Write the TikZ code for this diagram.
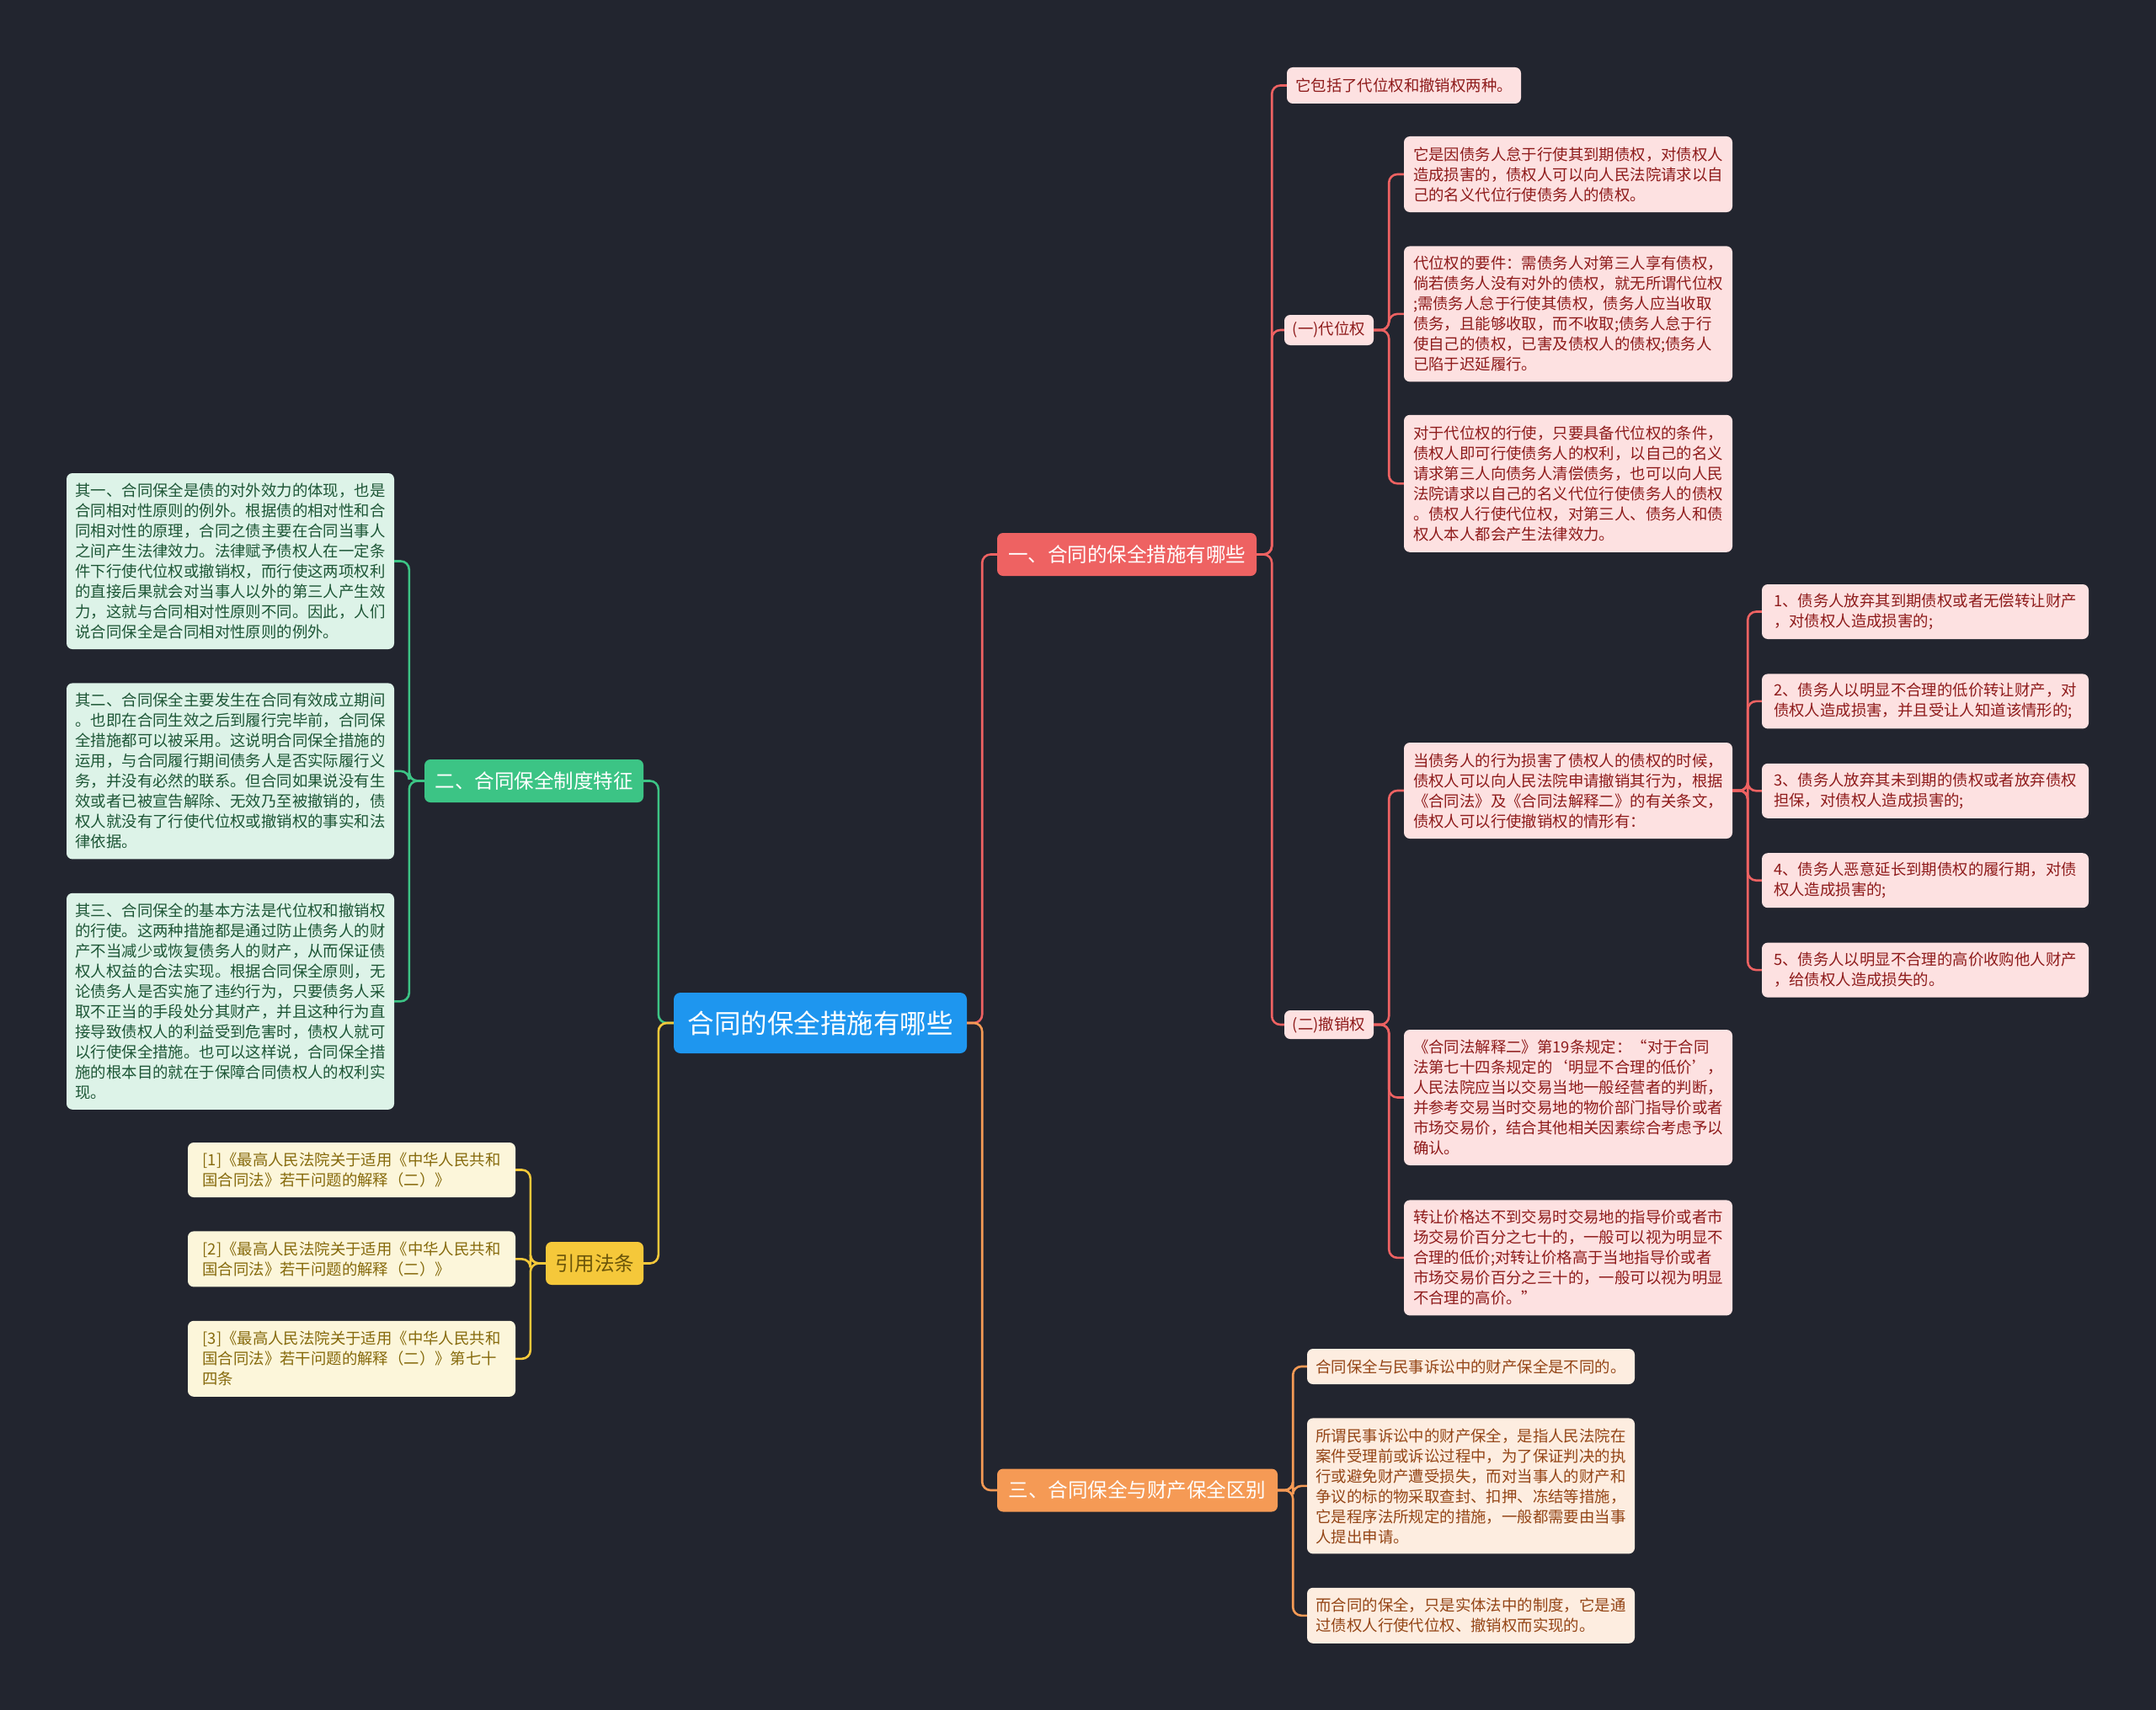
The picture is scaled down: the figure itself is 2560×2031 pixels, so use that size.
\documentclass[tikz,border=0pt]{standalone}
\usepackage{fontspec}
\setmainfont{Noto Sans CJK SC}
\usetikzlibrary{positioning}

\definecolor{bgcol}{HTML}{22252F}
\definecolor{rootcol}{HTML}{1E96EF}
\definecolor{redcol}{HTML}{EE6262}
\definecolor{redfill}{HTML}{FDE1E1}
\definecolor{redtext}{HTML}{8E1B1B}
\definecolor{greencol}{HTML}{3CC485}
\definecolor{greenfill}{HTML}{DDF3E8}
\definecolor{greentext}{HTML}{1D5636}
\definecolor{orangecol}{HTML}{F59A55}
\definecolor{orangefill}{HTML}{FDEDE0}
\definecolor{orangetext}{HTML}{944516}
\definecolor{yellowcol}{HTML}{F5C83A}
\definecolor{yellowfill}{HTML}{FCF6DA}
\definecolor{yellowtext}{HTML}{866A0C}

\begin{document}
\begin{tikzpicture}[
	x=1pt, y=-1pt,
	node distance=40pt,
	root/.style={fill=rootcol, text=white, rounded corners=8pt, minimum width=348pt, minimum height=72pt, font=\fontsize{31.5}{36}\selectfont},
	branch/.style={rounded corners=7pt, minimum height=51pt, inner xsep=10pt, font=\fontsize{23.5}{28}\selectfont},
	leaf/.style={rounded corners=7pt, align=left, inner xsep=10pt, inner ysep=8pt, font=\fontsize{18.4}{24}\selectfont},
	redleaf/.style={leaf, fill=redfill, text=redtext},
	greenleaf/.style={leaf, fill=greenfill, text=greentext, minimum width=389pt},
	yellowleaf/.style={leaf, fill=yellowfill, text=yellowtext, minimum width=389pt},
	orangeleaf/.style={leaf, fill=orangefill, text=orangetext, minimum width=389pt},
	link/.style={line width=2.6pt, rounded corners=10pt}
	]
	\fill[bgcol] (0,0) rectangle (2560,2031);
	
	\node[root] (root) at (974,1215) {合同的保全措施有哪些};
	
	\node[branch, fill=redcol, text=white, minimum width=308pt] (b1) at (1338,658.5) {一、合同的保全措施有哪些};
	\node[branch, fill=greencol, text=white, minimum width=260pt] (b2) at (634,927.5) {二、合同保全制度特征};
	\node[branch, fill=orangecol, text=white, minimum width=333pt] (b3) at (1350.5,1770) {三、合同保全与财产保全区别};
	\node[branch, fill=yellowcol, text=yellowtext!80!black, minimum width=116pt] (b4) at (706,1500.5) {引用法条};
	
	% branch one
	\node[redleaf, minimum width=278pt, minimum height=43pt] (both) at (1667,101.5) {它包括了代位权和撤销权两种。};
	\node[redleaf, minimum width=106pt, minimum height=36pt, inner xsep=4pt, inner ysep=4pt] (dwq) at (1578,392) {(一)代位权};
	\node[redleaf, minimum width=106pt, minimum height=34pt, inner xsep=4pt, inner ysep=4pt] (cxq) at (1578,1217) {(二)撤销权};
	
	\node[redleaf, minimum width=390pt, minimum height=90pt] (dw1) at (1862,207) {它是因债务人怠于行使其到期债权，对债权人\\
		造成损害的，债权人可以向人民法院请求以自\\
		己的名义代位行使债务人的债权。};
	\node[redleaf, minimum width=390pt, minimum height=161pt, below=40pt of dw1] (dw2) {代位权的要件：需债务人对第三人享有债权，\\
		倘若债务人没有对外的债权，就无所谓代位权\\
		;需债务人怠于行使其债权，债务人应当收取\\
		债务，且能够收取，而不收取;债务人怠于行\\
		使自己的债权，已害及债权人的债权;债务人\\
		已陷于迟延履行。};
	\node[redleaf, minimum width=390pt, minimum height=163pt, below=39pt of dw2] (dw3) {对于代位权的行使，只要具备代位权的条件，\\
		债权人即可行使债务人的权利，以自己的名义\\
		请求第三人向债务人清偿债务，也可以向人民\\
		法院请求以自己的名义代位行使债务人的债权\\
		。债权人行使代位权，对第三人、债务人和债\\
		权人本人都会产生法律效力。};
	
	\node[redleaf, minimum width=390pt, minimum height=114pt] (cx1) at (1862,939) {当债务人的行为损害了债权人的债权的时候，\\
		债权人可以向人民法院申请撤销其行为，根据\\
		《合同法》及《合同法解释二》的有关条文，\\
		债权人可以行使撤销权的情形有：};
	\node[redleaf, minimum width=390pt, minimum height=161pt] (cx2) at (1862,1303.5) {《合同法解释二》第19条规定：“对于合同\\
		法第七十四条规定的‘明显不合理的低价’，\\
		人民法院应当以交易当地一般经营者的判断，\\
		并参考交易当时交易地的物价部门指导价或者\\
		市场交易价，结合其他相关因素综合考虑予以\\
		确认。};
	\node[redleaf, minimum width=390pt, minimum height=137pt, below=41pt of cx2] (cx3) {转让价格达不到交易时交易地的指导价或者市\\
		场交易价百分之七十的，一般可以视为明显不\\
		合理的低价;对转让价格高于当地指导价或者\\
		市场交易价百分之三十的，一般可以视为明显\\
		不合理的高价。”};
	
	\node[redleaf, minimum width=388pt, minimum height=65pt] (q1) at (2286,726.5) {1、债务人放弃其到期债权或者无偿转让财产\\
		，对债权人造成损害的;};
	\node[redleaf, minimum width=388pt, minimum height=65pt, below=41pt of q1] (q2) {2、债务人以明显不合理的低价转让财产，对\\
		债权人造成损害，并且受让人知道该情形的;};
	\node[redleaf, minimum width=388pt, minimum height=65pt, below=41pt of q2] (q3) {3、债务人放弃其未到期的债权或者放弃债权\\
		担保，对债权人造成损害的;};
	\node[redleaf, minimum width=388pt, minimum height=65pt, below=41pt of q3] (q4) {4、债务人恶意延长到期债权的履行期，对债\\
		权人造成损害的;};
	\node[redleaf, minimum width=388pt, minimum height=65pt, below=41pt of q4] (q5) {5、债务人以明显不合理的高价收购他人财产\\
		，给债权人造成损失的。};
	
	% branch two
	\node[greenleaf, minimum height=209pt] (tz1) at (273.5,666.5) {其一、合同保全是债的对外效力的体现，也是\\
		合同相对性原则的例外。根据债的相对性和合\\
		同相对性的原理，合同之债主要在合同当事人\\
		之间产生法律效力。法律赋予债权人在一定条\\
		件下行使代位权或撤销权，而行使这两项权利\\
		的直接后果就会对当事人以外的第三人产生效\\
		力，这就与合同相对性原则不同。因此，人们\\
		说合同保全是合同相对性原则的例外。};
	\node[greenleaf, minimum height=209pt, below=40pt of tz1] (tz2) {其二、合同保全主要发生在合同有效成立期间\\
		。也即在合同生效之后到履行完毕前，合同保\\
		全措施都可以被采用。这说明合同保全措施的\\
		运用，与合同履行期间债务人是否实际履行义\\
		务，并没有必然的联系。但合同如果说没有生\\
		效或者已被宣告解除、无效乃至被撤销的，债\\
		权人就没有了行使代位权或撤销权的事实和法\\
		律依据。};
	\node[greenleaf, minimum height=257pt, below=40pt of tz2] (tz3) {其三、合同保全的基本方法是代位权和撤销权\\
		的行使。这两种措施都是通过防止债务人的财\\
		产不当减少或恢复债务人的财产，从而保证债\\
		权人权益的合法实现。根据合同保全原则，无\\
		论债务人是否实施了违约行为，只要债务人采\\
		取不正当的手段处分其财产，并且这种行为直\\
		接导致债权人的利益受到危害时，债权人就可\\
		以行使保全措施。也可以这样说，合同保全措\\
		施的根本目的就在于保障合同债权人的权利实\\
		现。};
	
	% branch four
	\node[yellowleaf, minimum height=65pt] (fa1) at (417.5,1389.5) {[1]《最高人民法院关于适用《中华人民共和\\
		国合同法》若干问题的解释（二）》};
	\node[yellowleaf, minimum height=66pt, below=40pt of fa1] (fa2) {[2]《最高人民法院关于适用《中华人民共和\\
		国合同法》若干问题的解释（二）》};
	\node[yellowleaf, minimum height=90pt, below=40pt of fa2] (fa3) {[3]《最高人民法院关于适用《中华人民共和\\
		国合同法》若干问题的解释（二）》第七十\\
		四条};
	
	% branch three
	\node[orangeleaf, minimum height=42pt] (qb1) at (1746.5,1623) {合同保全与民事诉讼中的财产保全是不同的。};
	\node[orangeleaf, minimum height=161pt, below=40pt of qb1] (qb2) {所谓民事诉讼中的财产保全，是指人民法院在\\
		案件受理前或诉讼过程中，为了保证判决的执\\
		行或避免财产遭受损失，而对当事人的财产和\\
		争议的标的物采取查封、扣押、冻结等措施，\\
		它是程序法所规定的措施，一般都需要由当事\\
		人提出申请。};
	\node[orangeleaf, minimum height=66pt, below=40pt of qb2] (qb3) {而合同的保全，只是实体法中的制度，它是通\\
		过债权人行使代位权、撤销权而实现的。};
	
	\draw[link, redcol] (root.east) -- ++(18,0) |- (b1.west);
	\draw[link, orangecol] (root.east) -- ++(18,0) |- (b3.west);
	\draw[link, greencol] (root.west) -- ++(-18,0) |- (b2.east);
	\draw[link, yellowcol] (root.west) -- ++(-18,0) |- (b4.east);
	
	\draw[link, redcol] (b1.east) -- ++(18,0) |- (both.west);
	\draw[link, redcol] (b1.east) -- ++(18,0) |- (dwq.west);
	\draw[link, redcol] (b1.east) -- ++(18,0) |- (cxq.west);
	\draw[link, redcol] (dwq.east) -- ++(18,0) |- (dw1.west);
	\draw[link, redcol] (dwq.east) -- ++(18,0) |- (dw2.west);
	\draw[link, redcol] (dwq.east) -- ++(18,0) |- (dw3.west);
	\draw[link, redcol] (cxq.east) -- ++(18,0) |- (cx1.west);
	\draw[link, redcol] (cxq.east) -- ++(18,0) |- (cx2.west);
	\draw[link, redcol] (cxq.east) -- ++(18,0) |- (cx3.west);
	\draw[link, redcol] (cx1.east) -- ++(18,0) |- (q1.west);
	\draw[link, redcol] (cx1.east) -- ++(18,0) |- (q2.west);
	\draw[link, redcol] (cx1.east) -- ++(18,0) |- (q3.west);
	\draw[link, redcol] (cx1.east) -- ++(18,0) |- (q4.west);
	\draw[link, redcol] (cx1.east) -- ++(18,0) |- (q5.west);
	
	\draw[link, greencol] (b2.west) -- ++(-18,0) |- (tz1.east);
	\draw[link, greencol] (b2.west) -- ++(-18,0) |- (tz2.east);
	\draw[link, greencol] (b2.west) -- ++(-18,0) |- (tz3.east);
	
	\draw[link, yellowcol] (b4.west) -- ++(-18,0) |- (fa1.east);
	\draw[link, yellowcol] (b4.west) -- ++(-18,0) |- (fa2.east);
	\draw[link, yellowcol] (b4.west) -- ++(-18,0) |- (fa3.east);
	
	\draw[link, orangecol] (b3.east) -- ++(18,0) |- (qb1.west);
	\draw[link, orangecol] (b3.east) -- ++(18,0) |- (qb2.west);
	\draw[link, orangecol] (b3.east) -- ++(18,0) |- (qb3.west);
\end{tikzpicture}
\end{document}
